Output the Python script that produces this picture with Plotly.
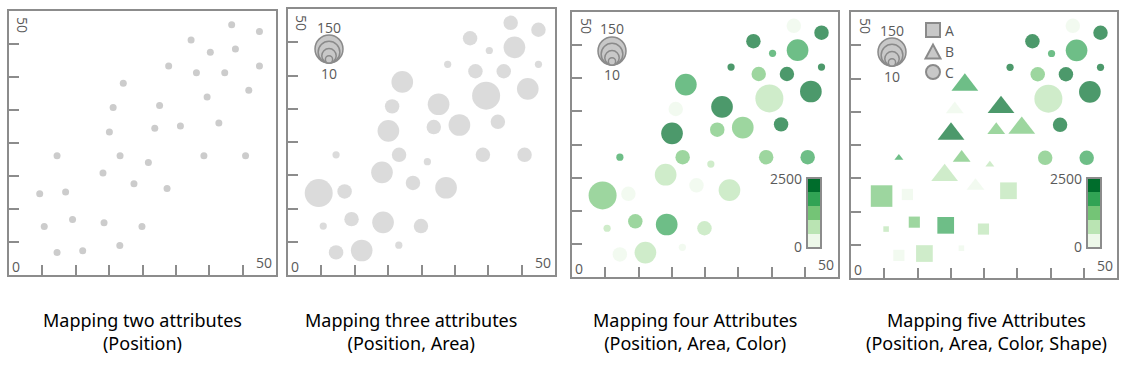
import math
import plotly.graph_objects as go

W, H = 1125, 368

# ---------------- data ----------------
x_vals = [41.7, 46.9, 34.1, 42.4, 37.7, 29.9, 35.1, 40.4, 46.9, 21.4, 44.9, 37.1,
          19.5, 28.2, 18.8, 27.3, 32.1, 39.3, 9.0, 20.8, 36.5, 44.3, 26.1, 17.6,
          23.4, 29.6, 5.75, 10.6, 6.6, 11.9, 17.8, 24.9, 9.0, 13.8, 20.75]
y_vals = [47.4, 46.1, 44.5, 42.8, 42.2, 39.6, 38.3, 38.3, 39.6, 36.3, 35.0, 33.7,
          31.7, 32.1, 27.1, 27.8, 28.2, 28.8, 22.6, 22.6, 22.6, 22.6, 21.3, 19.3,
          17.3, 16.4, 15.4, 15.7, 9.2, 10.5, 9.9, 9.2, 4.25, 4.6, 5.6]
size_vals = [40, 40, 40, 90, 10, 10, 40, 40, 10, 90, 90, 150,
             40, 90, 90, 40, 90, 40, 10, 40, 40, 40, 10, 90,
             40, 90, 150, 40, 10, 40, 90, 40, 40, 90, 10]
color_vals = [250, 2250, 2300, 1750, 1700, 2250, 1250, 2300, 2250, 1750, 2300, 750,
              250, 2250, 2300, 1250, 1250, 2250, 1750, 1250, 1250, 1750, 750, 750,
              250, 750, 1250, 250, 750, 1250, 1750, 750, 250, 750, 250]
cat_vals = ['C', 'C', 'C', 'C', 'C', 'C', 'C', 'C', 'C', 'B', 'C', 'C',
            'B', 'B', 'B', 'B', 'B', 'C', 'B', 'B', 'C', 'C', 'B', 'B',
            'B', 'A', 'A', 'A', 'A', 'A', 'A', 'A', 'A', 'A', 'A']
categories = ['A', 'B', 'C']
size_legend_vals = [150, 90, 40, 10]
color_range = [0, 2500]
axis_max = 50
titles = ["Mapping two attributes<br>(Position)",
          "Mapping three attributes<br>(Position, Area)",
          "Mapping four Attributes<br>(Position, Area, Color)",
          "Mapping five Attributes<br>(Position, Area, Color, Shape)"]

# ---------------- styles ----------------
greens = ['#edf8e9', '#bae4b3', '#74c476', '#31a354', '#006d2c']
GRAY = '#cccccc'
FRAME = '#8c8c8c'
LABEL = '#5a5a5a'
D_MAX = 28.0
TICK_FONT = dict(family='Open Sans', size=14, color=LABEL)
TITLE_FONT = dict(family='Noto Sans', size=18, color='black')

def diam(v):
    return D_MAX * math.sqrt(v / max(size_vals))

def px(xp):
    return xp / W

def py(yp):
    return 1 - yp / H

def note(text, x, y, **kw):
    d = dict(text=text, x=px(x), y=py(y), xref='paper', yref='paper',
             xanchor='center', yanchor='middle', showarrow=False, font=TICK_FONT)
    d.update(kw)
    return d

# panel boxes in pixels: (left, top, right, bottom)
boxes = [(9, 11, 276, 275), (288, 9, 555, 275), (572, 12, 838, 277), (851, 12, 1117, 278)]

disc = []
for i, c in enumerate(greens):
    disc.append([i / 5, c])
    disc.append([(i + 1) / 5, c])

fig = go.Figure()

# panel 1
fig.add_trace(go.Scatter(x=x_vals, y=y_vals, mode='markers', xaxis='x', yaxis='y',
                         marker=dict(size=7, color=GRAY, line=dict(width=0)),
                         showlegend=False, hoverinfo='skip'))
# panel 2
fig.add_trace(go.Scatter(x=x_vals, y=y_vals, mode='markers', xaxis='x2', yaxis='y2',
                         marker=dict(size=[diam(v) for v in size_vals], color=GRAY,
                                     line=dict(width=0)),
                         showlegend=False, hoverinfo='skip'))
# panel 3
fig.add_trace(go.Scatter(x=x_vals, y=y_vals, mode='markers', xaxis='x3', yaxis='y3',
                         marker=dict(size=[diam(v) for v in size_vals], color=color_vals,
                                     coloraxis='coloraxis', line=dict(width=0)),
                         showlegend=False, hoverinfo='skip'))
# panel 4
sym = {'A': 'square', 'B': 'triangle-up', 'C': 'circle'}
scale = {'A': 0.77, 'B': 1.07, 'C': 1.0}
for cat in categories:
    idx = [i for i, c in enumerate(cat_vals) if c == cat]
    fig.add_trace(go.Scatter(
        x=[x_vals[i] for i in idx], y=[y_vals[i] for i in idx], mode='markers',
        xaxis='x4', yaxis='y4',
        marker=dict(symbol=sym[cat], size=[diam(size_vals[i]) * scale[cat] for i in idx],
                    color=[color_vals[i] for i in idx], coloraxis='coloraxis2',
                    line=dict(width=0)),
        showlegend=False, hoverinfo='skip'))

axis_common = dict(range=[0, axis_max], showgrid=False, zeroline=False,
                   showline=True, mirror=True, linecolor=FRAME, linewidth=2,
                   ticks='inside', ticklen=10, tickwidth=2, tickcolor=FRAME,
                   tickvals=[axis_max / 8 * k for k in range(1, 8)],
                   showticklabels=False, fixedrange=True, automargin=False)

layout = dict(width=W, height=H, margin=dict(l=0, r=0, t=0, b=0, autoexpand=False),
              paper_bgcolor='white', plot_bgcolor='white', showlegend=False)
annotations = []
shapes = []
for k, (L, T, R, B) in enumerate(boxes):
    n = '' if k == 0 else str(k + 1)
    layout['xaxis' + n] = dict(axis_common, domain=[px(L), px(R)], anchor='y' + n)
    layout['yaxis' + n] = dict(axis_common, domain=[py(B), py(T)], anchor='x' + n)
    # axis end labels
    annotations.append(note(str(axis_max), L + 14, T + 14, textangle=90))
    annotations.append(note('0', L + 7, B - 9))
    annotations.append(note(str(axis_max), R - 12, B - 13))

# titles
title_cx = [142, 411, 695, 986]
for t, cx in zip(titles, title_cx):
    annotations.append(note(t, cx, 331, align='center', font=TITLE_FONT))

# size legends (panels 2-4)
size_leg = [(329, 63), (612, 65), (892, 66)]
for cx, by in size_leg:
    for v in size_legend_vals:
        d = diam(v)
        shapes.append(dict(type='circle', xref='paper', yref='paper',
                           xsizemode='pixel', ysizemode='pixel',
                           xanchor=px(cx), yanchor=py(by),
                           x0=-d / 2, x1=d / 2, y0=0, y1=d,
                           fillcolor='#c8c8c8', line=dict(color='#8a8a8a', width=1.5)))
    annotations.append(note(str(size_legend_vals[0]), cx, by - 36))
    annotations.append(note(str(size_legend_vals[-1]), cx, by + 10))

# shape legend (panel 4)
leg_style = dict(xref='paper', yref='paper', xsizemode='pixel', ysizemode='pixel',
                 fillcolor='#c8c8c8', line=dict(color='#8a8a8a', width=2))
shapes.append(dict(leg_style, type='rect', xanchor=px(933), yanchor=py(30),
                   x0=-7, x1=7, y0=-7, y1=7))
shapes.append(dict(leg_style, type='path', xanchor=px(933), yanchor=py(52),
                   path='M -7.5,-6.5 L 7.5,-6.5 L 0,7.5 Z'))
shapes.append(dict(leg_style, type='circle', xanchor=px(933), yanchor=py(72),
                   x0=-7, x1=7, y0=-7, y1=7))
for lab, yy in zip(categories, [30, 52, 72]):
    annotations.append(note(lab, 943, yy, xanchor='left'))

def cbar(xleft):
    return dict(x=px(xleft), xanchor='left', y=py(178), yanchor='top',
                len=70, lenmode='pixels', thickness=14, thicknessmode='pixels',
                outlinewidth=2, outlinecolor=FRAME, xpad=0, ypad=0,
                tickvals=color_range, ticks='', showticklabels=False, borderwidth=0)

cb_left = [807, 1087]
for xl in cb_left:
    annotations.append(note(str(color_range[1]), xl - 3, 178, xanchor='right'))
    annotations.append(note(str(color_range[0]), xl - 3, 246, xanchor='right'))

layout['coloraxis'] = dict(cmin=color_range[0], cmax=color_range[1], colorscale=disc,
                           colorbar=cbar(cb_left[0]))
layout['coloraxis2'] = dict(cmin=color_range[0], cmax=color_range[1], colorscale=disc,
                            colorbar=cbar(cb_left[1]))
layout['annotations'] = annotations
layout['shapes'] = shapes
fig.update_layout(**layout)
fig.write_html('out.html', config={'displayModeBar': False},
               post_script="document.body.style.margin='0px';document.body.style.overflow='hidden';")
